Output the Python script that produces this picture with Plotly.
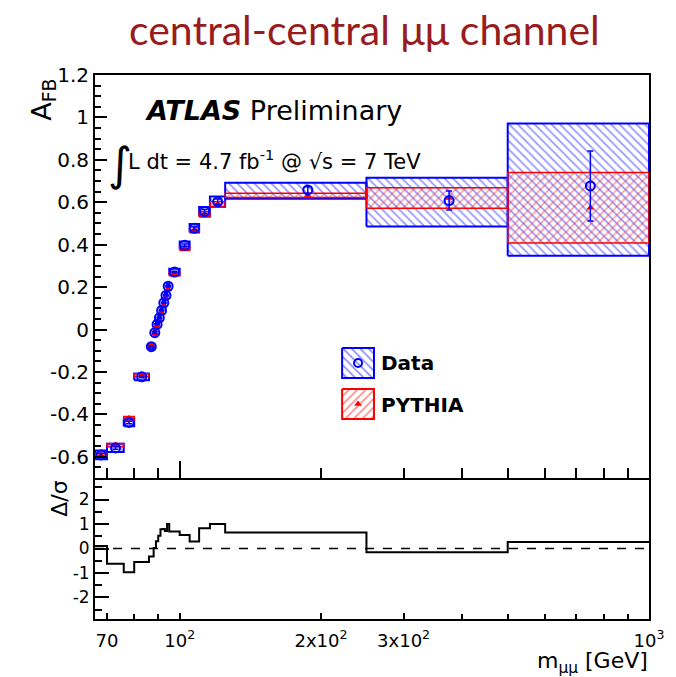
import numpy as np
import plotly.graph_objects as go

# ---- Forward-backward asymmetry, central-central dimuon channel ----
mass_edges = [66, 70, 76, 80, 86, 88, 89, 90, 91, 92, 93, 94, 95,
              100, 105, 110, 116, 125, 250, 500, 1000]

afb_data = [-0.591, -0.558, -0.438, -0.223, -0.081, -0.015, 0.024, 0.055,
            0.090, 0.126, 0.161, 0.204, 0.271, 0.397, 0.478, 0.556, 0.603,
            0.658, 0.608, 0.677]
afb_data_stat = [0.008, 0.007, 0.006, 0.004, 0.004, 0.004, 0.003, 0.003,
                 0.003, 0.003, 0.003, 0.004, 0.004, 0.006, 0.008, 0.010,
                 0.012, 0.015, 0.045, 0.165]
# total uncertainty band on data (lower / upper edge)
data_band_lo = [-0.612, -0.577, -0.456, -0.239, -0.093, -0.027, 0.012, 0.043,
                0.078, 0.114, 0.149, 0.192, 0.256, 0.379, 0.458, 0.534,
                0.579, 0.616, 0.486, 0.348]
data_band_hi = [-0.570, -0.539, -0.420, -0.207, -0.069, -0.003, 0.036, 0.067,
                0.102, 0.138, 0.173, 0.216, 0.286, 0.415, 0.498, 0.578,
                0.627, 0.692, 0.716, 0.971]

afb_pythia = [-0.592, -0.545, -0.418, -0.215, -0.078, -0.020, 0.015, 0.045,
              0.078, 0.113, 0.150, 0.190, 0.262, 0.383, 0.472, 0.543, 0.590,
              0.632, 0.620, 0.574]
pythia_half = [0.008, 0.008, 0.008, 0.006, 0.006, 0.006, 0.006, 0.006,
               0.006, 0.006, 0.006, 0.006, 0.008, 0.010, 0.011, 0.012,
               0.012, 0.010, 0.048, 0.166]

# (data - PYTHIA) / sigma
delta_over_sigma = [0.10, -0.62, -0.97, -0.55, -0.33, 0.02, 0.30, 0.52,
                    0.79, 0.80, 0.72, 1.00, 0.69, 0.55, 0.29, 0.83, 1.00,
                    0.65, -0.15, 0.27]

y_ticks_main = [-0.6, -0.4, -0.2, 0, 0.2, 0.4, 0.6, 0.8, 1, 1.2]
y_ticks_main_text = ["-0.6", "-0.4", "-0.2", "0", "0.2", "0.4", "0.6", "0.8", "1", "1.2"]
y_ticks_ratio = [-2, -1, 0, 1, 2]
y_ticks_ratio_text = ["-2", "-1", "0", "1", "2"]
x_ticks = [70, 100, 200, 300, 1000]
x_ticks_text = ["70", "10<sup>2</sup>", "2x10<sup>2</sup>", "3x10<sup>2</sup>", "10<sup>3</sup>"]
x_minor = [70, 80, 90, 200, 300, 400, 500, 600, 700, 800, 900]

BLUE = "#0000ff"
RED = "#ff0000"
FONT = "DejaVu Sans"

W, H = 676, 677
ML, MR, MT, MB = 95, 25, 75, 58
PW, PH = W - ML - MR, H - MT - MB
split = (619 - 478) / PH


def px(xp):
    return (xp - ML) / PW


def py(yp):
    return (H - MB - yp) / PH


lo = np.array(mass_edges[:-1], float)
hi = np.array(mass_edges[1:], float)
centers = (lo + hi) / 2


def rects(x0s, x1s, y0s, y1s):
    xs, ys = [], []
    for a, b, c, d in zip(x0s, x1s, y0s, y1s):
        xs += [a, b, b, a, a, None]
        ys += [c, c, d, d, c, None]
    return xs, ys


fig = go.Figure()

# data uncertainty boxes (blue hatch)
bx, by = rects(lo, hi, data_band_lo, data_band_hi)
fig.add_trace(go.Scatter(
    x=bx, y=by, mode="lines", fill="toself", fillcolor="rgba(0,0,0,0)",
    fillpattern=dict(shape="\\", fgcolor="#2a2aff", bgcolor="rgba(0,0,0,0)",
                     size=6, solidity=0.28),
    line=dict(color=BLUE, width=2), hoverinfo="skip", showlegend=False,
    xaxis="x", yaxis="y"))

# PYTHIA boxes (red hatch)
py_lo = np.array(afb_pythia) - np.array(pythia_half)
py_hi = np.array(afb_pythia) + np.array(pythia_half)
rx, ry = rects(lo, hi, py_lo, py_hi)
fig.add_trace(go.Scatter(
    x=rx, y=ry, mode="lines", fill="toself", fillcolor="rgba(0,0,0,0)",
    fillpattern=dict(shape="/", fgcolor="#ff3030", bgcolor="rgba(0,0,0,0)",
                     size=6, solidity=0.25),
    line=dict(color=RED, width=1.5), hoverinfo="skip", showlegend=False,
    xaxis="x", yaxis="y"))

# PYTHIA markers
fig.add_trace(go.Scatter(
    x=centers, y=afb_pythia, mode="markers",
    marker=dict(symbol="triangle-up", size=7, color=RED),
    showlegend=False, xaxis="x", yaxis="y"))

# data markers with statistical errors
fig.add_trace(go.Scatter(
    x=centers, y=afb_data, mode="markers",
    marker=dict(symbol="circle-open", size=9, color=BLUE, line=dict(width=2)),
    error_y=dict(type="data", array=afb_data_stat, color=BLUE, thickness=1.5, width=3),
    showlegend=False, xaxis="x", yaxis="y"))

# ratio panel step histogram
fig.add_trace(go.Scatter(
    x=mass_edges, y=delta_over_sigma + [delta_over_sigma[-1]],
    mode="lines", line=dict(color="black", width=2, shape="hv"),
    showlegend=False, xaxis="x2", yaxis="y2"))

# legend keys drawn on a pixel-scaled overlay axis
key_x0, key_x1 = 343, 375
for (y0, y1), color, shape, sym in [((348, 378), BLUE, "\\", "circle-open"),
                                    ((389, 419), RED, "/", "triangle-up")]:
    fig.add_trace(go.Scatter(
        x=[key_x0, key_x1, key_x1, key_x0, key_x0], y=[y0, y0, y1, y1, y0],
        mode="lines", fill="toself", fillcolor="rgba(0,0,0,0)",
        fillpattern=dict(shape=shape, fgcolor=color, bgcolor="rgba(0,0,0,0)",
                         size=6, solidity=0.25),
        line=dict(color=color, width=2), showlegend=False, hoverinfo="skip",
        xaxis="x3", yaxis="y3"))
    fig.add_trace(go.Scatter(
        x=[(key_x0 + key_x1) / 2], y=[(y0 + y1) / 2], mode="markers",
        marker=dict(symbol=sym, size=8 if sym == "circle-open" else 7, color=color,
                    line=dict(width=2) if sym == "circle-open" else None),
        showlegend=False, xaxis="x3", yaxis="y3"))

axis_common = dict(showline=True, linecolor="black", linewidth=2,
                   showgrid=False, zeroline=False, ticks="inside", tickcolor="black")
xrange = [np.log10(66), 3]

fig.update_layout(
    width=W, height=H,
    margin=dict(l=ML, r=MR, t=MT, b=MB),
    paper_bgcolor="white", plot_bgcolor="white",
    font=dict(family=FONT, color="black"),
    xaxis=dict(type="log", range=xrange, domain=[0, 1], anchor="y", mirror=True,
               showticklabels=False, tickvals=[100, 1000], ticklen=17, tickwidth=1.5,
               minor=dict(tickmode="array", tickvals=x_minor, ticks="inside",
                          ticklen=10, tickwidth=1.5, tickcolor="black"),
               **axis_common),
    yaxis=dict(domain=[split, 1], anchor="x", range=[-0.7, 1.2], mirror=True,
               tickvals=y_ticks_main, ticktext=y_ticks_main_text, ticklen=12, tickwidth=1.5,
               tickfont=dict(size=20, family=FONT),
               minor=dict(tick0=0, dtick=0.05, ticks="inside", ticklen=6,
                          tickwidth=1.5, tickcolor="black"),
               **axis_common),
    xaxis2=dict(type="log", range=xrange, domain=[0, 1], anchor="y2", matches="x",
                mirror=False,
                tickvals=x_ticks, ticktext=x_ticks_text, ticklen=6, tickwidth=1.5,
                tickfont=dict(size=18, family=FONT), ticklabelstandoff=4,
                minor=dict(tickmode="array", tickvals=x_minor, ticks="inside",
                           ticklen=5, tickwidth=1.5, tickcolor="black"),
                **axis_common),
    yaxis2=dict(domain=[0, split], anchor="x2", range=[-2.88, 2.88], mirror=True,
                tickvals=y_ticks_ratio, ticktext=y_ticks_ratio_text, ticklen=14, tickwidth=1.5,
                tickfont=dict(size=17, family=FONT),
                minor=dict(tick0=0, dtick=0.5, ticks="inside", ticklen=7,
                           tickwidth=1.5, tickcolor="black"),
                **axis_common),
    xaxis3=dict(overlaying="x", anchor="y3", range=[ML, ML + PW], visible=False),
    yaxis3=dict(overlaying="y", anchor="x3", range=[478, MT], visible=False),
)

# zero reference line in the ratio panel
fig.add_shape(type="line", xref="x2 domain", yref="y2", x0=0, x1=1, y0=0, y1=0,
              line=dict(color="black", width=1.5, dash="dash"))

annotations = [
    dict(text="central-central μμ channel", x=px(365), y=py(30),
         font=dict(family="Lato", size=41, color="#981b1e")),
    dict(text="<b><i>ATLAS</i></b> Preliminary", x=px(143), y=py(110), xanchor="left",
         font=dict(size=27)),
    dict(text="∫", x=px(106), y=py(164), font=dict(size=46)),
    dict(text="L dt = 4.7 fb<sup>-1</sup> @ √s = 7 TeV", x=px(126), y=py(160),
         xanchor="left", font=dict(size=21)),
    dict(text="<b>Data</b>", x=px(380), y=py(363), xanchor="left", font=dict(size=20)),
    dict(text="<b>PYTHIA</b>", x=px(380), y=py(405), xanchor="left", font=dict(size=20)),
    dict(text="A<sub>FB</sub>", x=px(24), y=py(100), textangle=-90, font=dict(size=27)),
    dict(text="Δ/σ", x=px(44), y=py(499), textangle=-90, font=dict(size=22)),
    dict(text="m<sub>μμ</sub> [GeV]", x=px(652), y=py(662), xanchor="right",
         font=dict(size=22)),
]
for a in annotations:
    fig.add_annotation(xref="paper", yref="paper", showarrow=False,
                       yanchor=a.pop("yanchor", "middle"), **a)

fig.write_html("out.html")
